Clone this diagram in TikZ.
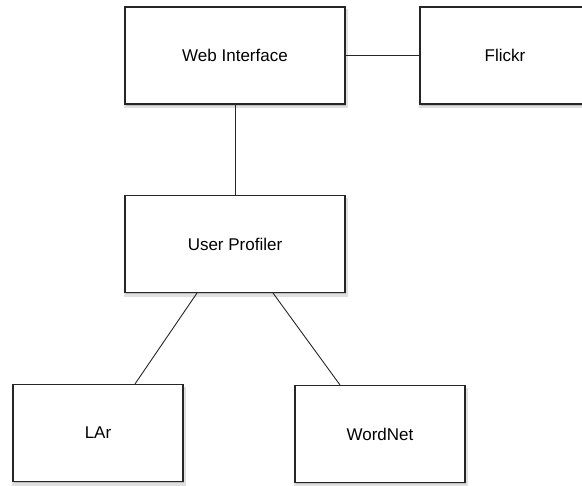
\documentclass[tikz,border=0pt]{standalone}
\usepackage{fontspec}
\setmainfont{Liberation Sans}
\usetikzlibrary{shadows}
\begin{document}
\begin{tikzpicture}[
    x=1pt, y=-1pt,
    box/.style={rectangle, draw=black!85, line width=1.1pt, fill=white, inner sep=0pt,
        minimum width=170pt, minimum height=97pt, font=\fontsize{17}{20}\selectfont,
        general shadow={fill=black, opacity=0.12, shadow xshift=1pt, shadow yshift=-3pt, shadow scale=1.02},
        drop shadow={opacity=0.35, shadow xshift=0.5pt, shadow yshift=-2pt}},
    widebox/.style={box, minimum width=220pt},
    link/.style={line width=0.9pt, draw=black!85}
]
    \useasboundingbox (0,0) rectangle (582,486);

    % Components
    \node[widebox] (web) at (235,55.5) {Web Interface};
    \node[box] (flickr) at (505,55.5) {Flickr};
    \node[widebox] (profiler) at (235,244) {User Profiler};
    \node[box] (lar) at (98,433) {LAr};
    \node[box] (wordnet) at (380,434) {WordNet};

    % Connections
    \draw[link] (web) -- (flickr);
    \draw[link] (web) -- (profiler);
    \draw[link] ([xshift=-38pt]profiler.south) -- ([xshift=37pt]lar.north);
    \draw[link] ([xshift=38pt]profiler.south) -- ([xshift=-40pt]wordnet.north);
\end{tikzpicture}
\end{document}
